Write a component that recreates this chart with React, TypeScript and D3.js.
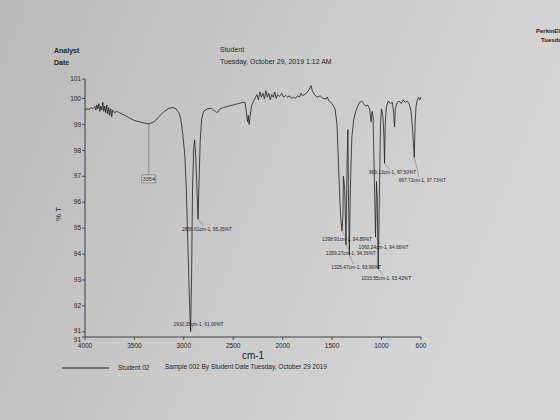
import { useEffect, useRef } from 'react';
import * as d3 from 'd3';

// spectrum: wavenumber (cm-1) and %T
const wavenumbers = [
  4000, 3980, 3960, 3940, 3920, 3900, 3890, 3880, 3870, 3860, 3850, 3840, 3830, 3820, 3810, 3800,
  3790, 3780, 3770, 3760, 3750, 3740, 3730, 3720, 3700, 3680, 3650, 3600, 3550, 3500, 3450, 3400,
  3354, 3300, 3250, 3200, 3150, 3110, 3080, 3050, 3030, 3010, 2990, 2975, 2960, 2945, 2932, 2922,
  2912, 2900, 2890, 2880, 2870, 2856, 2846, 2835, 2820, 2800, 2760, 2720, 2700, 2680, 2660, 2640,
  2600, 2550, 2500, 2450, 2400, 2380, 2365, 2355, 2348, 2340, 2330, 2315, 2300, 2280, 2260, 2245,
  2230, 2215, 2200, 2185, 2170, 2155, 2140, 2125, 2110, 2095, 2080, 2065, 2050, 2030, 2010, 1990,
  1970, 1950, 1930, 1910, 1890, 1870, 1850, 1830, 1815, 1800, 1760, 1730, 1713, 1700, 1680, 1650,
  1620, 1590, 1560, 1550, 1530, 1500, 1470, 1450, 1435, 1420, 1410, 1399, 1390, 1385, 1372, 1359,
  1348, 1340, 1333, 1325, 1315, 1300, 1280, 1260, 1240, 1220, 1200, 1180, 1160, 1140, 1120, 1105,
  1095, 1085, 1075, 1060, 1050, 1042, 1033, 1022, 1010, 1000, 985, 975, 969, 962, 950, 930,
  910, 890, 875, 868, 860, 840, 820, 800, 780, 760, 740, 720, 700, 685, 668, 660,
  650, 640, 625, 610, 600,
];
const transmittance = [
  99.55, 99.6, 99.58, 99.65, 99.6, 99.7, 99.55, 99.75, 99.6, 99.8, 99.5, 99.7, 99.55, 99.85, 99.5, 99.7,
  99.45, 99.75, 99.4, 99.65, 99.35, 99.6, 99.3, 99.55, 99.45, 99.5, 99.45, 99.35, 99.25, 99.15, 99.1, 99.05,
  99.02, 99.1, 99.3, 99.5, 99.62, 99.65, 99.6, 99.45, 99.2, 98.6, 97.8, 96.5, 94.5, 92.5, 91.0, 93.0,
  96.5, 98.1, 98.4, 97.8, 96.8, 95.35, 96.8, 98.3, 99.2, 99.5, 99.6, 99.62, 99.55, 99.5, 99.45, 99.58,
  99.65, 99.7, 99.75, 99.8, 99.85, 99.85, 99.4, 99.1, 99.35, 99.0, 99.3, 99.7, 99.85, 100.0, 100.15, 99.95,
  100.25, 100.05, 100.2, 99.98, 100.3, 100.05, 100.2, 99.95, 100.15, 100.05, 100.25, 100.0, 100.15, 100.08, 100.2, 100.05,
  100.12, 100.05, 100.1, 100.0, 100.05, 100.0, 100.1, 100.05, 100.2, 100.1, 100.2, 100.35, 100.5, 100.3, 100.15, 100.05,
  100.1, 100.0, 99.98, 100.05, 99.9, 99.8, 99.6, 99.0, 97.5, 96.0, 95.3, 94.89, 95.5, 97.0, 96.5, 94.36,
  97.5, 98.8, 96.0, 93.96, 96.5, 98.5, 99.2, 99.5, 99.7, 99.85, 99.9, 99.8, 99.7, 99.75, 99.6, 99.1,
  99.5, 99.3, 97.5, 94.66, 96.8, 96.0, 93.42, 96.0, 99.0, 99.6, 99.3, 98.5, 97.5, 99.0, 99.7, 99.9,
  99.8, 99.85, 99.4, 98.9, 99.6, 99.85, 99.9, 99.8, 99.95, 99.85, 99.9, 99.8, 99.5, 98.8, 97.73, 99.0,
  99.7, 99.9, 100.05, 99.95, 100.05,
];

// peak picks printed on the chart
const peakWn = [2932.38, 2856.61, 1398.91, 1359.27, 1325.47, 1060.24, 1033.55, 969.13, 667.72];
const peakT = [91.0, 95.35, 94.89, 94.36, 93.96, 94.66, 93.42, 97.5, 97.73];
// label offsets from the peak tip, px
const peakDx = [8, 9, 5, 5, 7, 8, 8, 8, 8];
const peakDy = [-6, 12, 10, 10, 14, 12, 11, 11, 25];

const xTicks = [4000, 3500, 3000, 2500, 2000, 1500, 1000, 600];
const yTicks = [90.8, 91, 92, 93, 94, 95, 96, 97, 98, 99, 100, 100.75];

const App = () => {
  const ref = useRef<SVGSVGElement>(null);

  useEffect(() => {
    const svg = d3.select(ref.current);
    svg.selectAll('*').remove();

    const width = 560;
    const height = 420;
    const font = 'Liberation Sans, Arial, sans-serif';
    const ink = '#1e1e1e';

    // paper background
    const defs = svg.append('defs');
    const grad = defs.append('linearGradient').attr('id', 'paper')
      .attr('x1', '0').attr('y1', '0').attr('x2', '1').attr('y2', '0.3');
    grad.append('stop').attr('offset', '0').attr('stop-color', '#b9b9b9');
    grad.append('stop').attr('offset', '0.5').attr('stop-color', '#c9c9c9');
    grad.append('stop').attr('offset', '1').attr('stop-color', '#d6d6d6');
    svg.append('rect').attr('width', width).attr('height', height).attr('fill', 'url(#paper)');

    const x = d3.scaleLinear().domain([4000, 600]).range([85, 421]);
    const y = d3.scaleLinear().domain([90.8, 100.75]).range([337, 79]);

    const text = (tx: number, ty: number, s: string, size: number, anchor = 'start', weight = 'normal') =>
      svg.append('text')
        .attr('x', tx).attr('y', ty)
        .attr('font-family', font)
        .attr('font-size', size)
        .attr('font-weight', weight)
        .attr('text-anchor', anchor)
        .attr('fill', ink)
        .text(s);

    // header
    text(54, 53, 'Analyst', 7, 'start', 'bold');
    text(54, 65, 'Date', 7, 'start', 'bold');
    text(220, 52, 'Student', 7);
    text(220, 64, 'Tuesday, October 29, 2019 1:12 AM', 7);
    // printout runs off the right edge of the photo
    text(536, 33, 'PerkinElmer', 6, 'start', 'bold');
    text(541, 42, 'Tuesday', 6, 'start', 'bold');

    // axes
    const bottom = svg.append('g').attr('transform', 'translate(0,337)');
    bottom.append('line').attr('x1', 85).attr('x2', 421).attr('stroke', ink).attr('stroke-width', 0.8);
    bottom.selectAll('line.t').data(xTicks).enter().append('line')
      .attr('class', 't')
      .attr('x1', (d) => x(d)).attr('x2', (d) => x(d))
      .attr('y1', 0).attr('y2', 3)
      .attr('stroke', ink).attr('stroke-width', 0.7);
    bottom.selectAll('text').data(xTicks).enter().append('text')
      .attr('x', (d) => x(d)).attr('y', 11)
      .attr('text-anchor', 'middle')
      .attr('font-family', font).attr('font-size', 6.5).attr('fill', ink)
      .text((d) => d);

    const left = svg.append('g').attr('transform', 'translate(85,0)');
    left.append('line').attr('y1', 79).attr('y2', 337).attr('stroke', ink).attr('stroke-width', 0.8);
    left.selectAll('line.t').data(yTicks).enter().append('line')
      .attr('class', 't')
      .attr('x1', -3).attr('x2', 0)
      .attr('y1', (d) => y(d)).attr('y2', (d) => y(d))
      .attr('stroke', ink).attr('stroke-width', 0.7);
    left.selectAll('text').data(yTicks).enter().append('text')
      // the two "91" labels sit close together on the printout
      .attr('x', -4).attr('y', (d, i) => y(d) + (i === 0 ? 4.5 : i === 1 ? 1 : 2.2))
      .attr('text-anchor', 'end')
      .attr('font-family', font).attr('font-size', 6.5).attr('fill', ink)
      .text((d) => Math.round(d));

    text(0, 0, '% T', 8)
      .attr('transform', 'translate(61,214) rotate(-90)')
      .attr('text-anchor', 'middle');
    text(253, 359, 'cm-1', 10, 'middle');

    // spectrum
    const pts: [number, number][] = wavenumbers.map((w, i) => [w, transmittance[i]]);
    const line = d3.line<[number, number]>().x((d) => x(d[0])).y((d) => y(d[1]));
    svg.append('path')
      .datum(pts)
      .attr('d', line)
      .attr('fill', 'none')
      .attr('stroke', ink)
      .attr('stroke-width', 0.8)
      .attr('stroke-linejoin', 'round');

    // 3354 broad band marker
    const bx = x(3354);
    svg.append('line')
      .attr('x1', bx).attr('x2', bx)
      .attr('y1', y(99.02)).attr('y2', y(97.05))
      .attr('stroke', '#555').attr('stroke-width', 0.5);
    svg.append('rect')
      .attr('x', bx - 7).attr('y', y(97.05)).attr('width', 14).attr('height', 8)
      .attr('fill', '#d0d0d0').attr('stroke', '#555').attr('stroke-width', 0.5);
    text(bx, y(97.05) + 6, '3354', 5.5, 'middle');

    // peak labels
    const peaks = peakWn.map((w, i) => ({ w, t: peakT[i], dx: peakDx[i], dy: peakDy[i] }));
    const g = svg.append('g');
    g.selectAll('line').data(peaks).enter().append('line')
      .attr('x1', (d) => x(d.w)).attr('y1', (d) => y(d.t))
      .attr('x2', (d) => x(d.w) + d.dx * 0.6).attr('y2', (d) => y(d.t) + d.dy - 5)
      .attr('stroke', '#555').attr('stroke-width', 0.4);
    g.selectAll('text').data(peaks).enter().append('text')
      .attr('x', (d) => x(d.w) + d.dx).attr('y', (d) => y(d.t) + d.dy)
      .attr('text-anchor', 'middle')
      .attr('font-family', font).attr('font-size', 4.8).attr('fill', ink)
      .text((d) => `${d.w.toFixed(2)}cm-1, ${d.t.toFixed(2)}%T`);

    // legend
    svg.append('line').attr('x1', 62).attr('x2', 109).attr('y1', 368).attr('y2', 368)
      .attr('stroke', ink).attr('stroke-width', 1);
    text(118, 370, 'Student 02', 6.5);
    text(165, 369, 'Sample 002 By Student Date Tuesday, October 29 2019', 6.5);
  }, []);

  return (
    <svg
      ref={ref}
      width={560}
      height={420}
      style={{ position: 'absolute', left: 0, top: 0, display: 'block' }}
    />
  );
};

export default App;
